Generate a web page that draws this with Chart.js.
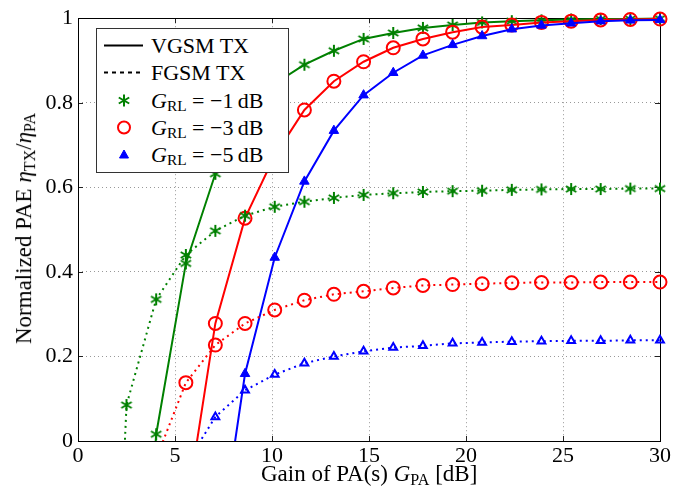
<!DOCTYPE html>
<html>
<head>
<meta charset="utf-8">
<script src="https://cdn.jsdelivr.net/npm/chart.js@4.4.1/dist/chart.umd.min.js"></script>
<style>
  body { margin: 0; background: #fff; }
  #wrap { position: relative; width: 682px; height: 491px; font-family: 'Liberation Serif', serif; color: #000; overflow: hidden; }
  #chart { position: absolute; left: 0; top: 0; }
  .lbl { position: absolute; font-size: 23px; line-height: 1; white-space: nowrap; }
  .lbl sub { font-size: 70%; vertical-align: baseline; position: relative; top: 0.22em; }
  #legend { position: absolute; left: 96px; top: 28px; width: 191px; height: 143px; border: 1px solid #333; background: #fff; }
  #legend .row { position: absolute; left: 0; height: 27px; width: 190px; }
  #legend svg { position: absolute; left: 7px; top: 0; }
  #legend .txt { position: absolute; left: 54px; top: 3px; font-size: 22px; line-height: 1; white-space: nowrap; }
  #legend sub { font-size: 70%; vertical-align: baseline; position: relative; top: 0.22em; }
</style>
</head>
<body>
<div id="wrap">
  <canvas id="chart" width="682" height="491"></canvas>
  <div class="lbl" id="xtitle">Gain of PA(s) <i>G</i><sub>PA</sub> [dB]</div>
  <div class="lbl" id="ytitle">Normalized PAE <i>η</i><sub>TX</sub>/<i>η</i><sub>PA</sub></div>
  <div id="legend">
    <div class="row" style="top:3px">
      <svg width="46" height="27"><line x1="0" y1="13.5" x2="39" y2="13.5" stroke="#000" stroke-width="2"/></svg>
      <span class="txt">VGSM TX</span>
    </div>
    <div class="row" style="top:30px">
      <svg width="46" height="27"><line x1="0" y1="13.5" x2="39" y2="13.5" stroke="#000" stroke-width="2" stroke-dasharray="4 4"/></svg>
      <span class="txt">FGSM TX</span>
    </div>
    <div class="row" style="top:58px">
      <svg width="46" height="27"><g stroke="#008000" stroke-width="2"><line x1="20" y1="7.5" x2="20" y2="19.5"/><line x1="14.8" y1="10.5" x2="25.2" y2="16.5"/><line x1="14.8" y1="16.5" x2="25.2" y2="10.5"/></g></svg>
      <span class="txt"><i>G</i><sub>RL</sub>&nbsp;=&nbsp;−1&#8201;dB</span>
    </div>
    <div class="row" style="top:85px">
      <svg width="46" height="27"><circle cx="20" cy="13.5" r="6" fill="none" stroke="#ff0000" stroke-width="2"/></svg>
      <span class="txt"><i>G</i><sub>RL</sub>&nbsp;=&nbsp;−3&#8201;dB</span>
    </div>
    <div class="row" style="top:112px">
      <svg width="46" height="27"><polygon points="20,9 15.5,17 24.5,17" fill="#0000ff" stroke="#0000ff" stroke-width="1"/></svg>
      <span class="txt"><i>G</i><sub>RL</sub>&nbsp;=&nbsp;−5&#8201;dB</span>
    </div>
  </div>
</div>
<script>
// gain of the PA(s) in dB (marker positions)
const gain = [0.97, 2.5, 4.03, 5.56, 7.08, 8.61, 10.14, 11.67, 13.19, 14.72,
              16.25, 17.78, 19.31, 20.83, 22.36, 23.89, 25.42, 26.94, 28.47, 30];

// VGSM TX, normalized PAE
const vgsmRl1 = [null, -1.0, 0.016, 0.42, 0.632, 0.755, 0.845, 0.89, 0.923, 0.951,
                 0.965, 0.977, 0.984, 0.99, 0.993, 0.995, 0.997, 0.998, 0.998, 0.999];
const vgsmRl3 = [null, null, null, -0.17, 0.278, 0.527, 0.675, 0.783, 0.851, 0.897,
                 0.93, 0.951, 0.967, 0.979, 0.984, 0.99, 0.993, 0.996, 0.997, 0.998];
const vgsmRl5 = [null, null, null, null, -0.317, 0.159, 0.434, 0.614, 0.734, 0.818,
                 0.871, 0.912, 0.937, 0.958, 0.974, 0.983, 0.988, 0.993, 0.995, 0.996];

// FGSM TX, normalized PAE
const fgsmRl1 = [-1.5, 0.085, 0.335, 0.44, 0.497, 0.533, 0.554, 0.566, 0.575, 0.582,
                 0.586, 0.589, 0.591, 0.592, 0.594, 0.595, 0.596, 0.596, 0.597, 0.597];
const fgsmRl3 = [null, null, -0.042, 0.138, 0.227, 0.278, 0.31, 0.333, 0.347, 0.354,
                 0.362, 0.368, 0.37, 0.372, 0.374, 0.375, 0.375, 0.376, 0.376, 0.376];
const fgsmRl5 = [null, null, null, -0.055, 0.057, 0.12, 0.157, 0.184, 0.2, 0.212,
                 0.221, 0.225, 0.231, 0.233, 0.235, 0.236, 0.237, 0.237, 0.238, 0.238];

const xTicks = [0, 5, 10, 15, 20, 25, 30];
const yTicks = [0, 0.2, 0.4, 0.6, 0.8, 1];

const green = '#008000', red = '#ff0000', blue = '#0000ff';
const serifFamily = '"Liberation Serif", "Times New Roman", serif';
const tickFont = { family: serifFamily, size: 22 };

function pts(ys) {
  return gain.map((x, i) => ({ x: x, y: ys[i] })).filter(p => p.y !== null);
}

function makeStar(color) {
  const c = document.createElement('canvas');
  c.width = 14; c.height = 14;
  const g = c.getContext('2d');
  g.strokeStyle = color; g.lineWidth = 2;
  g.translate(7, 7);
  for (let k = 0; k < 3; k++) {
    const a = Math.PI / 2 + k * Math.PI / 3;
    g.beginPath();
    g.moveTo(6 * Math.cos(a), 6 * Math.sin(a));
    g.lineTo(-6 * Math.cos(a), -6 * Math.sin(a));
    g.stroke();
  }
  return c;
}
const star = makeStar(green);

const hideNeg = r => ctx => (ctx.raw && ctx.raw.y < 0 ? 0 : r);
const clipBox = { left: 0, top: 10, right: 10, bottom: 0 };

function series(ys, color, dotted, mark, order) {
  const ds = {
    data: pts(ys), showLine: true, order: order, clip: clipBox,
    borderColor: color, borderWidth: 2, borderDash: dotted ? [2, 4] : [],
    pointBorderColor: color, pointBorderWidth: 2
  };
  if (mark === 'star') {
    ds.pointStyle = star; ds.pointRadius = hideNeg(6);
  } else if (mark === 'circle') {
    ds.pointStyle = 'circle'; ds.pointRadius = hideNeg(6.5);
    ds.pointBackgroundColor = 'rgba(0,0,0,0)';
  } else {
    ds.pointStyle = 'triangle'; ds.pointRadius = hideNeg(dotted ? 4.5 : 5.5);
    ds.pointBackgroundColor = dotted ? 'rgba(0,0,0,0)' : color;
    ds.pointBorderWidth = dotted ? 2 : 1;
  }
  return ds;
}

// frame and inward tick marks
const frame = {
  id: 'frame',
  beforeDatasetsDraw(chart) {
    const { ctx, chartArea: a, scales } = chart;
    ctx.save();
    ctx.strokeStyle = '#222';
    ctx.lineWidth = 1;
    ctx.beginPath();
    xTicks.forEach(v => {
      const px = Math.round(scales.x.getPixelForValue(v)) + 0.5;
      ctx.moveTo(px, a.bottom); ctx.lineTo(px, a.bottom - 5);
      ctx.moveTo(px, a.top); ctx.lineTo(px, a.top + 5);
    });
    yTicks.forEach(v => {
      const py = Math.round(scales.y.getPixelForValue(v)) + 0.5;
      ctx.moveTo(a.left, py); ctx.lineTo(a.left + 5, py);
      ctx.moveTo(a.right, py); ctx.lineTo(a.right - 5, py);
    });
    ctx.stroke();
    ctx.strokeStyle = '#000';
    ctx.strokeRect(Math.round(a.left) + 0.5, Math.round(a.top) + 0.5,
                   Math.round(a.right - a.left), Math.round(a.bottom - a.top));
    ctx.restore();
  }
};

Chart.defaults.font.family = serifFamily;
Chart.defaults.font.size = 22;
Chart.defaults.color = '#000';

function draw() {
  new Chart(document.getElementById('chart'), {
    type: 'scatter',
    data: {
      datasets: [
        series(vgsmRl1, green, false, 'star', 6),
        series(vgsmRl3, red, false, 'circle', 5),
        series(vgsmRl5, blue, false, 'triangle', 4),
        series(fgsmRl1, green, true, 'star', 3),
        series(fgsmRl3, red, true, 'circle', 2),
        series(fgsmRl5, blue, true, 'triangle', 1)
      ]
    },
    options: {
      responsive: false,
      animation: false,
      layout: { padding: { top: 15, right: 22, left: 0, bottom: 0 } },
      plugins: { legend: { display: false }, tooltip: { enabled: false } },
      scales: {
        x: {
          type: 'linear', min: 0, max: 30,
          afterBuildTicks: s => { s.ticks = xTicks.map(v => ({ value: v })); },
          afterFit: s => { s.height = 50; },
          grid: { color: '#999', drawTicks: false },
          border: { display: false, dash: [1, 3] },
          ticks: { padding: 2, maxRotation: 0, font: tickFont, color: '#000', callback: v => String(v) }
        },
        y: {
          type: 'linear', min: 0, max: 1,
          afterBuildTicks: s => { s.ticks = yTicks.map(v => ({ value: v })); },
          afterFit: s => { s.width = 78; },
          grid: { color: '#999', drawTicks: false },
          border: { display: false, dash: [1, 3] },
          ticks: { padding: 5, font: tickFont, color: '#000',
                   callback: v => (v === 0 || v === 1 ? String(v) : v.toFixed(1)) }
        }
      }
    },
    plugins: [frame]
  });
}

// axis titles
const xt = document.getElementById('xtitle');
xt.style.left = (369 - xt.offsetWidth / 2) + 'px';
xt.style.top = '462px';
const yt = document.getElementById('ytitle');
yt.style.left = (23 - yt.offsetWidth / 2) + 'px';
yt.style.top = (228 - yt.offsetHeight / 2) + 'px';
yt.style.transform = 'rotate(-90deg)';

document.fonts.load('22px "Liberation Serif"').then(draw, draw);
</script>
</body>
</html>
